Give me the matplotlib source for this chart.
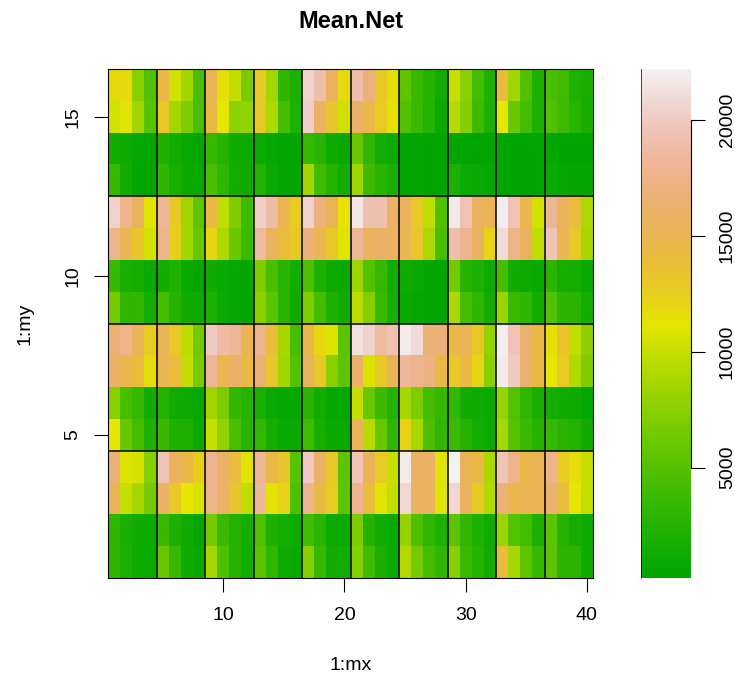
import numpy as np
import matplotlib
matplotlib.use("Agg")
import matplotlib.pyplot as plt
from matplotlib.colors import LinearSegmentedColormap, hsv_to_rgb

plt.rcParams['font.family'] = ['Liberation Sans', 'DejaVu Sans']

# rows, top row (16) first
row16 = [11800,11800,7500,4800, 14500,10500,8500,4500, 15000,11500,9800,6800, 13000,8500,3000,2000, 20500,19000,15500,11800, 19000,16800,13000,11500, 5500,3500,2500,1300, 10000,7500,4200,2200, 14000,8500,4800,2200, 4500,4000,2200,1800]
row15 = [10500,11000,8500,5200, 13000,8500,7000,4500, 14500,11200,7600,7800, 13000,9000,4300,2000, 20300,16000,13300,10300, 16000,14500,12800,11300, 4800,3600,2400,900, 9300,7200,3900,2000, 11200,6000,4200,2000, 4800,3900,2700,1700]
row14 = [1500,1100,600,400, 2200,1300,700,400, 3400,2600,1300,1000, 1000,600,400,400, 3400,2700,1100,700, 6000,3000,1500,1000, 400,350,300,300, 400,400,300,300, 300,300,300,300, 350,300,300,300]
row13 = [3500,1300,500,400, 3000,1700,900,700, 4500,3000,1500,1100, 2300,900,500,400, 8500,4000,2500,1500, 8400,3900,2800,1700, 500,500,300,300, 2000,1000,800,600, 300,300,300,300, 800,600,500,500]
row12 = [20500,17500,15500,11000, 18000,13000,8500,5500, 14500,9700,7000,3900, 20300,18700,15000,12800, 20500,17000,15200,11300, 21500,19200,19200,15800, 15500,13000,9700,4800, 21700,19400,15500,15000, 21900,19400,14800,10500, 18000,15500,14000,9000]
row11 = [17800,15000,13300,10500, 17500,12500,8500,6000, 12000,9000,6000,3800, 18500,15700,14000,13000, 16800,15000,13000,11000, 18000,15500,16000,15700, 15000,13300,9000,4500, 19000,17800,15500,12300, 21000,17500,15500,9700, 19500,15000,13000,8800]
row10 = [3500,1800,1500,900, 1500,2200,800,400, 1200,800,600,500, 7000,4500,2700,1500, 4600,2000,1100,800, 8300,4900,3400,1500, 1200,900,500,400, 6500,2500,2000,1100, 4300,1300,1100,700, 2900,1600,1500,800]
row9 = [6700,3000,3200,1500, 4200,2500,1400,1000, 2000,1000,600,400, 7500,5300,2700,1400, 7000,4200,2000,1200, 9500,7200,3600,1700, 900,600,400,400, 9000,4200,3000,1500, 8200,3600,3000,1500, 5000,2900,2700,1500]
row8 = [16500,17500,15300,12700, 15300,13000,9500,6500, 20000,18500,18000,15200, 17500,14000,8800,4300, 14500,11900,10800,5300, 21300,20400,18500,19300, 21700,21000,16500,16800, 14500,15200,13000,8000, 22000,19600,16300,14500, 11400,13200,9700,7500]
row7 = [16000,14800,14000,11700, 15000,14000,9800,6700, 18000,15000,16000,14500, 16500,13200,8500,4900, 15500,13000,7500,5500, 16000,10700,13000,15300, 18300,17800,17200,14300, 13000,14300,12000,7500, 21800,20000,16300,14300, 11200,12800,9200,7000]
row6 = [7500,4400,3400,1300, 2400,1200,1100,700, 8400,6900,3200,2500, 1800,800,600,500, 2700,1300,600,500, 10000,5900,3800,2400, 8700,6900,4200,3400, 3200,1400,1200,900, 8000,5000,3000,1900, 1500,1300,1100,600]
row5 = [11200,6000,4200,2000, 3500,2200,2000,900, 10000,7800,4400,2700, 3200,1600,800,800, 4000,1700,900,800, 15300,9400,6000,3000, 12300,8700,4600,3200, 3700,2500,1500,1000, 8700,5200,3600,2600, 3400,2700,2300,1400]
row4 = [16800,10800,10600,7300, 19500,15500,14400,12500, 17800,16000,14000,11000, 18000,14500,13300,5200, 20000,16000,13000,5500, 19500,15300,12800,10000, 21800,15800,16000,11000, 22100,15300,14300,9000, 19600,17500,14500,15200, 17500,12700,11500,10000]
row3 = [15200,10000,8700,6700, 16000,13000,11200,10700, 17500,16000,13300,9800, 18300,11400,12200,4600, 17800,14400,12800,5500, 17800,14000,11000,9800, 20800,15500,15700,11000, 20800,15500,12900,9200, 16800,14800,15000,15000, 16300,14000,11200,9900]
row2 = [3000,1800,1300,1000, 3500,2100,1200,500, 6500,3600,2400,1600, 4700,2100,1500,1200, 4000,2700,1100,1000, 7000,2500,1300,1000, 8000,4700,3000,2200, 5300,3200,2000,1100, 8200,4900,4200,2100, 5500,2500,1600,1100]
row1 = [3000,2000,1300,1000, 6000,3500,1300,900, 8700,4700,2400,1300, 5300,3000,1100,900, 7300,3400,1500,1500, 7300,4000,1800,1000, 9200,6500,4200,3000, 7400,3600,2500,1300, 14000,8700,5500,3400, 5500,2900,2800,1300]

vmin = 241
vmax = 22180
xticks = [10, 20, 30, 40]
yticks = [5, 10, 15]
cbticks = [5000, 10000, 15000, 20000]


def terrain_colors(n):
    # same ramp as R terrain.colors
    k = n // 2
    h = np.r_[np.linspace(4/12, 2/12, k), np.linspace(2/12, 0, n-k+1)[1:]]
    s = np.r_[np.linspace(1, 1, k), np.linspace(1, 0, n-k+1)[1:]]
    v = np.r_[np.linspace(.65, .9, k), np.linspace(.9, .95, n-k+1)[1:]]
    return hsv_to_rgb(np.c_[h, s, v])


cmap = LinearSegmentedColormap.from_list("terrain_r", terrain_colors(256), N=256)

z = np.array([row1, row2, row3, row4, row5, row6, row7, row8,
              row9, row10, row11, row12, row13, row14, row15, row16])

W, H = 735, 675
fig = plt.figure(figsize=(W/100, H/100), dpi=100)
ax = fig.add_axes([108/W, 1-578/H, (593-108)/W, (578-69)/H])
ax.pcolormesh(np.arange(0.5, 41), np.arange(0.5, 17), z, cmap=cmap, vmin=vmin, vmax=vmax)
for x in np.arange(4.5, 40, 4):
    ax.axvline(x, color='k', lw=1.1)
for y in [4.5, 8.5, 12.5]:
    ax.axhline(y, color='k', lw=1.1)
ax.set_xlim(0.5, 40.5)
ax.set_ylim(0.5, 16.5)
ax.set_xticks(xticks)
ax.set_yticks(yticks)
ax.tick_params(axis='x', length=10, width=0.8, labelsize=14, pad=11)
ax.tick_params(axis='y', length=10, width=0.8, labelsize=14, pad=9)
plt.setp(ax.get_yticklabels(), rotation=90, va='center')
fig.text(351/W, 1-21/H, "Mean.Net", ha='center', va='center', fontsize=17, fontweight='bold')
fig.text(351/W, 1-665/H, "1:mx", ha='center', va='center', fontsize=14)
fig.text(25/W, 1-324/H, "1:my", ha='center', va='center', rotation=90, fontsize=14)

# colour key
cax = fig.add_axes([641/W, 1-578/H, (691-641)/W, (578-69)/H])
levels = np.linspace(vmin, vmax, 257)
cax.pcolormesh([0, 1], levels, ((levels[:-1]+levels[1:])/2).reshape(-1, 1), cmap=cmap, vmin=vmin, vmax=vmax)
cax.set_xlim(0, 1)
cax.set_ylim(vmin, vmax)
cax.set_xticks([])
cax.yaxis.tick_right()
cax.set_yticks(cbticks)
cax.tick_params(length=10, width=0.8, labelsize=14, pad=10)
plt.setp(cax.get_yticklabels(), rotation=90, va='center')
cax.spines['top'].set_visible(False)
cax.spines['bottom'].set_visible(False)
cax.spines['left'].set_linewidth(0.5)
cax.spines['right'].set_bounds(5000, 20000)
cax.spines['right'].set_linewidth(0.8)

fig.savefig("out.png", dpi=100)
